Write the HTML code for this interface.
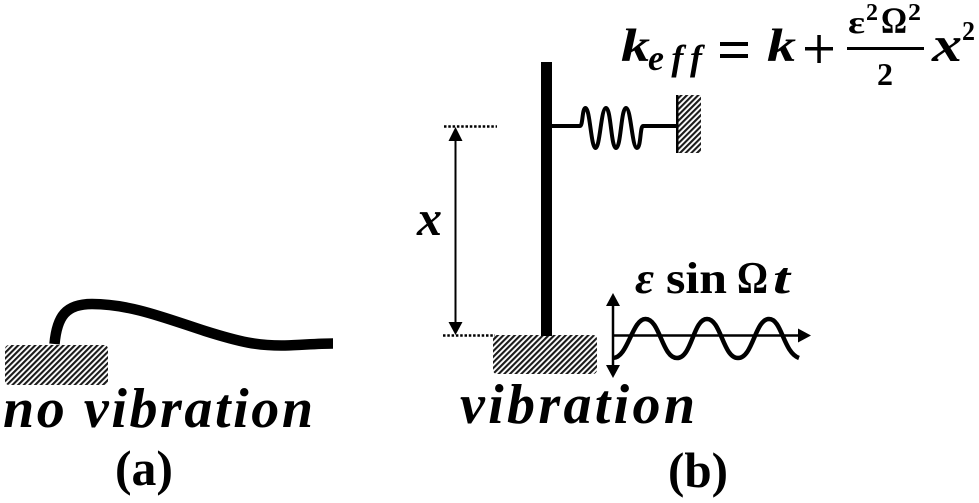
<!DOCTYPE html>
<html>
<head>
<meta charset="utf-8">
<style>
html,body{margin:0;padding:0;background:#fff;width:979px;height:503px;overflow:hidden}
svg{display:block}
text{font-family:"Liberation Serif","DejaVu Serif",serif;fill:#000}
.bi{font-weight:bold;font-style:italic}
.b{font-weight:bold}
</style>
</head>
<body>
<svg width="979" height="503" viewBox="0 0 979 503" xmlns="http://www.w3.org/2000/svg">
<defs>
<pattern id="h" width="4" height="4" patternUnits="userSpaceOnUse" patternTransform="rotate(45)">
<rect width="4" height="4" fill="#fff"/>
<rect width="2.1" height="4" fill="#1a1a1a"/>
</pattern>
</defs>

<!-- (a) -->
<rect x="5" y="345" width="103" height="40" rx="4" fill="url(#h)"/>
<path d="M54.500 344 C57 316 66 304 92 304 C130 304 165 318 205 331 C240 342 258 346 285 345.500 C302 345 318 343.500 333 343.500" fill="none" stroke="#000" stroke-width="10.500"/>
<text class="bi" x="3" y="427" font-size="56" textLength="310" lengthAdjust="spacing">no vibration</text>
<text class="b" x="115" y="485" font-size="50" textLength="58" lengthAdjust="spacingAndGlyphs">(a)</text>

<!-- (b) column and base -->
<rect x="493" y="335" width="104" height="39" rx="4" fill="url(#h)"/>
<rect x="541" y="62" width="11" height="274" fill="#000"/>

<!-- spring and wall -->
<path d="M552 126 H580 C583 126 582 108 585.500 108 C590 108 591 148 595.500 148 C600 148 601 108 606 108 C611 108 611 148 616 148 C621 148 621 108 626 108 C631 108 632 148 637 148 C641 148 640 126 643 126 H677" fill="none" stroke="#000" stroke-width="4"/>
<rect x="676" y="95" width="25" height="58" fill="url(#h)"/>
<rect x="676" y="95" width="2.500" height="58" fill="#000"/>

<!-- dimension -->
<line x1="444" y1="126.500" x2="497" y2="126.500" stroke="#000" stroke-width="2.500" stroke-dasharray="2.500 1.800"/>
<line x1="443" y1="335.500" x2="495" y2="335.500" stroke="#000" stroke-width="2.500" stroke-dasharray="2.500 1.800"/>
<line x1="455.500" y1="138" x2="455.500" y2="324" stroke="#000" stroke-width="2"/>
<polygon points="455.500,127 448.500,141 462.500,141" fill="#000"/>
<polygon points="455.500,335 448.500,322 462.500,322" fill="#000"/>
<text class="bi" x="417" y="235" font-size="50" textLength="25" lengthAdjust="spacingAndGlyphs">x</text>

<!-- axes and wave -->
<line x1="613" y1="304" x2="613" y2="368" stroke="#000" stroke-width="2.500"/>
<polygon points="613,293 606,306 620,306" fill="#000"/>
<polygon points="613,378 606,365 620,365" fill="#000"/>
<line x1="613" y1="335.500" x2="800" y2="335.500" stroke="#000" stroke-width="2.500"/>
<polygon points="811,335.500 798,328.500 798,342.500" fill="#000"/>
<path d="M613 358 C628 358 632 319 645.500 319 C660 319 662 358 677 358 C692 358 693 319 707 319 C721 319 723 358 738 358 C753 358 755 319 769 319 C782 319 783 352 799 358" fill="none" stroke="#000" stroke-width="4.500"/>

<!-- labels -->
<text class="bi" x="460" y="423" font-size="56" textLength="235" lengthAdjust="spacing">vibration</text>
<text class="b" x="668" y="487" font-size="50" textLength="60" lengthAdjust="spacingAndGlyphs">(b)</text>
<text class="bi" x="635" y="293" font-size="44" textLength="19" lengthAdjust="spacingAndGlyphs">ε</text>
<text class="b" x="666" y="293" font-size="44" textLength="61" lengthAdjust="spacingAndGlyphs">sin</text>
<text class="b" x="737" y="293" font-size="46" textLength="31" lengthAdjust="spacingAndGlyphs">Ω</text>
<text class="bi" x="773" y="293" font-size="44" textLength="17" lengthAdjust="spacingAndGlyphs">t</text>

<!-- formula -->
<text class="bi" x="621" y="61" font-size="47" textLength="29" lengthAdjust="spacingAndGlyphs">k</text>
<text class="bi" x="648" y="70" font-size="36" textLength="54" lengthAdjust="spacing">eff</text>
<rect x="720" y="42" width="28" height="4" fill="#000"/>
<rect x="720" y="54" width="28" height="4" fill="#000"/>
<text class="bi" x="767" y="61" font-size="47" textLength="29" lengthAdjust="spacingAndGlyphs">k</text>
<rect x="805" y="47" width="28" height="3.500" fill="#000"/>
<rect x="817.300" y="35" width="3.500" height="28" fill="#000"/>
<rect x="847" y="47" width="77" height="3" fill="#000"/>
<text class="b" x="848" y="33" font-size="32" textLength="17" lengthAdjust="spacingAndGlyphs">ε</text>
<text class="b" x="866" y="20" font-size="24" textLength="12" lengthAdjust="spacingAndGlyphs">2</text>
<text class="b" x="881" y="33" font-size="37" textLength="26" lengthAdjust="spacingAndGlyphs">Ω</text>
<text class="b" x="908" y="20" font-size="24" textLength="13" lengthAdjust="spacingAndGlyphs">2</text>
<text class="b" x="877" y="85" font-size="32" textLength="16" lengthAdjust="spacingAndGlyphs">2</text>
<text class="bi" x="932" y="61" font-size="50" textLength="30" lengthAdjust="spacingAndGlyphs">x</text>
<text class="b" x="962" y="40" font-size="27" textLength="13" lengthAdjust="spacingAndGlyphs">2</text>
</svg>
</body>
</html>
